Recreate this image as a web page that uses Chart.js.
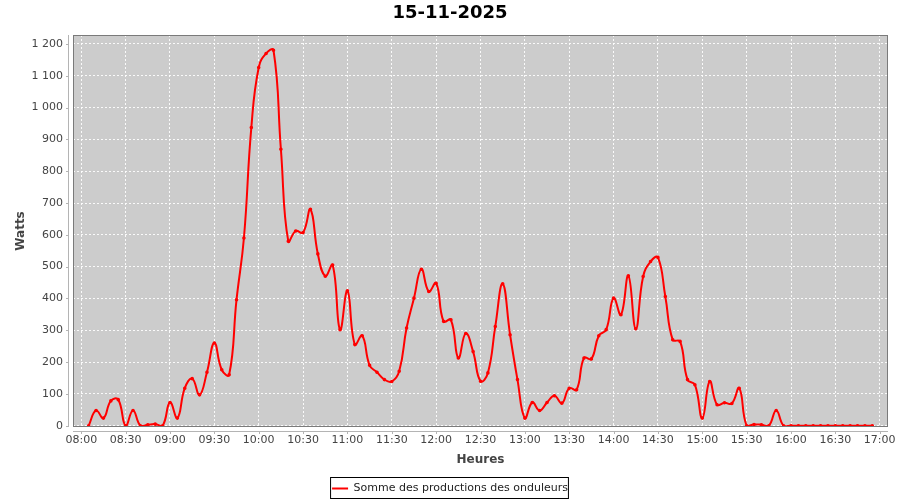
<!DOCTYPE html>
<html>
<head>
<meta charset="utf-8">
<script src="https://cdn.jsdelivr.net/npm/chart.js@4"></script>
<style>
  html, body { margin: 0; padding: 0; background: #fff; }
</style>
</head>
<body>
<canvas id="production-line" width="900" height="500"></canvas>
<script>
// Relevés toutes les 5 minutes
const heures = [
  '08:05', '08:10', '08:15', '08:20', '08:25', '08:30', '08:35', '08:40', '08:45', '08:50', '08:55',
  '09:00', '09:05', '09:10', '09:15', '09:20', '09:25', '09:30', '09:35', '09:40', '09:45', '09:50', '09:55',
  '10:00', '10:05', '10:10', '10:15', '10:20', '10:25', '10:30', '10:35', '10:40', '10:45', '10:50', '10:55',
  '11:00', '11:05', '11:10', '11:15', '11:20', '11:25', '11:30', '11:35', '11:40', '11:45', '11:50', '11:55',
  '12:00', '12:05', '12:10', '12:15', '12:20', '12:25', '12:30', '12:35', '12:40', '12:45', '12:50', '12:55',
  '13:00', '13:05', '13:10', '13:15', '13:20', '13:25', '13:30', '13:35', '13:40', '13:45', '13:50', '13:55',
  '14:00', '14:05', '14:10', '14:15', '14:20', '14:25', '14:30', '14:35', '14:40', '14:45', '14:50', '14:55',
  '15:00', '15:05', '15:10', '15:15', '15:20', '15:25', '15:30', '15:35', '15:40', '15:45', '15:50', '15:55',
  '16:00', '16:05', '16:10', '16:15', '16:20', '16:25', '16:30', '16:35', '16:40', '16:45', '16:50', '16:55',
];
const watts = [
  0, 48, 24, 78, 82, 0, 48, 0, 3, 5, 0,
  73, 24, 118, 148, 97, 168, 260, 176, 160, 396, 590, 937,
  1126, 1170, 1180, 869, 580, 612, 607, 680, 540, 470, 505, 302,
  424, 255, 283, 190, 168, 145, 139, 171, 307, 401, 492, 422,
  448, 328, 333, 213, 290, 233, 140, 166, 312, 446, 286, 145,
  24, 73, 48, 73, 94, 71, 118, 113, 213, 210, 283, 302,
  401, 349, 471, 305, 469, 516, 529, 406, 270, 265, 145, 129,
  24, 139, 66, 72, 70, 118, 0, 4, 3, 0, 48, 0,
  0, 0, 0, 0, 0, 0, 0, 0, 0, 0, 0, 0,
];
const xTicks = [
  '08:00', '08:30', '09:00', '09:30', '10:00', '10:30', '11:00', '11:30', '12:00', '12:30',
  '13:00', '13:30', '14:00', '14:30', '15:00', '15:30', '16:00', '16:30', '17:00',
];
const yTicks = [0, 100, 200, 300, 400, 500, 600, 700, 800, 900, 1000, 1100, 1200];

const toMinutes = (hhmm) => {
  const [h, m] = hhmm.split(':').map(Number);
  return h * 60 + m;
};
const fromMinutes = (v) => {
  const h = Math.floor(v / 60);
  const m = Math.round(v % 60);
  return String(h).padStart(2, '0') + ':' + String(m).padStart(2, '0');
};
const formatWatts = (v) => String(v).replace(/\B(?=(\d{3})+(?!\d))/g, ' ');

// fond gris, contour et axes décalés façon JFreeChart
const plotFrame = {
  id: 'plotFrame',
  beforeDraw(chart) {
    const { ctx, chartArea: a } = chart;
    ctx.save();
    ctx.fillStyle = '#cccccc';
    ctx.fillRect(a.left, a.top, a.width, a.height);
    ctx.restore();
  },
  afterDraw(chart) {
    const { ctx, chartArea: a, scales } = chart;
    ctx.save();
    ctx.lineWidth = 1;
    ctx.strokeStyle = '#7a7a7a';
    ctx.strokeRect(a.left + 0.5, a.top + 0.5, a.width - 1, a.height - 1);

    ctx.strokeStyle = '#b4b4b4';
    ctx.beginPath();
    ctx.moveTo(a.left - 4.5, a.top);
    ctx.lineTo(a.left - 4.5, a.bottom);
    ctx.moveTo(a.left, a.bottom + 4.5);
    ctx.lineTo(a.right, a.bottom + 4.5);
    scales.y.ticks.forEach((t) => {
      const y = Math.round(scales.y.getPixelForValue(t.value)) + 0.5;
      ctx.moveTo(a.left - 7, y);
      ctx.lineTo(a.left - 4.5, y);
    });
    scales.x.ticks.forEach((t) => {
      const x = Math.round(scales.x.getPixelForValue(t.value)) + 0.5;
      ctx.moveTo(x, a.bottom + 4.5);
      ctx.lineTo(x, a.bottom + 7);
    });
    ctx.stroke();

    // cadre de la légende
    const box = chart.legend.legendHitBoxes[0];
    if (box) {
      ctx.strokeStyle = '#000';
      ctx.strokeRect(box.left - 1.5, box.top - 5.5, box.width + 2, box.height + 10);
    }
    ctx.restore();
  },
};

new Chart(document.getElementById('production-line'), {
  type: 'line',
  plugins: [plotFrame],
  data: {
    datasets: [
      {
        label: 'Somme des productions des onduleurs',
        data: heures.map((h, i) => ({ x: toMinutes(h), y: watts[i] })),
        borderColor: '#ff0000',
        backgroundColor: '#ff0000',
        borderWidth: 2,
        tension: 0.45,
        pointRadius: 0.8,
        pointHoverRadius: 0,
        fill: false,
      },
    ],
  },
  options: {
    responsive: false,
    animation: false,
    events: [],
    font: { family: 'DejaVu Sans' },
    layout: {
      padding: { left: 0, right: 0, top: 0, bottom: -4 },
    },
    plugins: {
      title: {
        display: true,
        text: '15-11-2025',
        color: '#000',
        font: { family: 'DejaVu Sans', size: 18, weight: 'bold' },
        padding: { top: 3, bottom: 10.4 },
      },
      legend: {
        position: 'bottom',
        labels: {
          color: '#222',
          font: { family: 'DejaVu Sans', size: 11 },
          boxWidth: 16,
          boxHeight: 2,
          padding: 10,
          generateLabels: (chart) =>
            Chart.defaults.plugins.legend.labels
              .generateLabels(chart)
              .map((l) => ({ ...l, lineWidth: 0 })),
        },
      },
      tooltip: { enabled: false },
    },
    scales: {
      x: {
        type: 'linear',
        min: 474.4,
        max: 1025.6,
        afterBuildTicks: (axis) => {
          axis.ticks = xTicks.map((t) => ({ value: toMinutes(t) }));
        },
        afterFit: (axis) => {
          axis.height = 46;
          axis.paddingRight = 12;
        },
        ticks: {
          color: '#444',
          font: { family: 'DejaVu Sans', size: 11 },
          padding: 7,
          autoSkip: false,
          maxRotation: 0,
          callback: (v) => fromMinutes(v),
        },
        grid: {
          color: 'rgba(255, 255, 255, 0.9)',
          drawTicks: false,
        },
        border: { display: false, dash: [2, 2] },
        title: {
          display: true,
          text: 'Heures',
          color: '#444',
          font: { family: 'DejaVu Sans', size: 12, weight: 'bold' },
          padding: { top: 4, bottom: 5.8 },
        },
      },
      y: {
        min: -4,
        max: 1228,
        afterBuildTicks: (axis) => {
          axis.ticks = yTicks.map((v) => ({ value: v }));
        },
        afterFit: (axis) => {
          axis.width = 73;
        },
        ticks: {
          color: '#444',
          font: { family: 'DejaVu Sans', size: 11 },
          padding: 10,
          callback: (v) => formatWatts(v),
        },
        grid: {
          color: 'rgba(255, 255, 255, 0.9)',
          drawTicks: false,
        },
        border: { display: false, dash: [2, 2] },
        title: {
          display: true,
          text: 'Watts',
          color: '#444',
          font: { family: 'DejaVu Sans', size: 12, weight: 'bold' },
          padding: { top: 13.5, bottom: 0 },
        },
      },
    },
  },
});
</script>
</body>
</html>
